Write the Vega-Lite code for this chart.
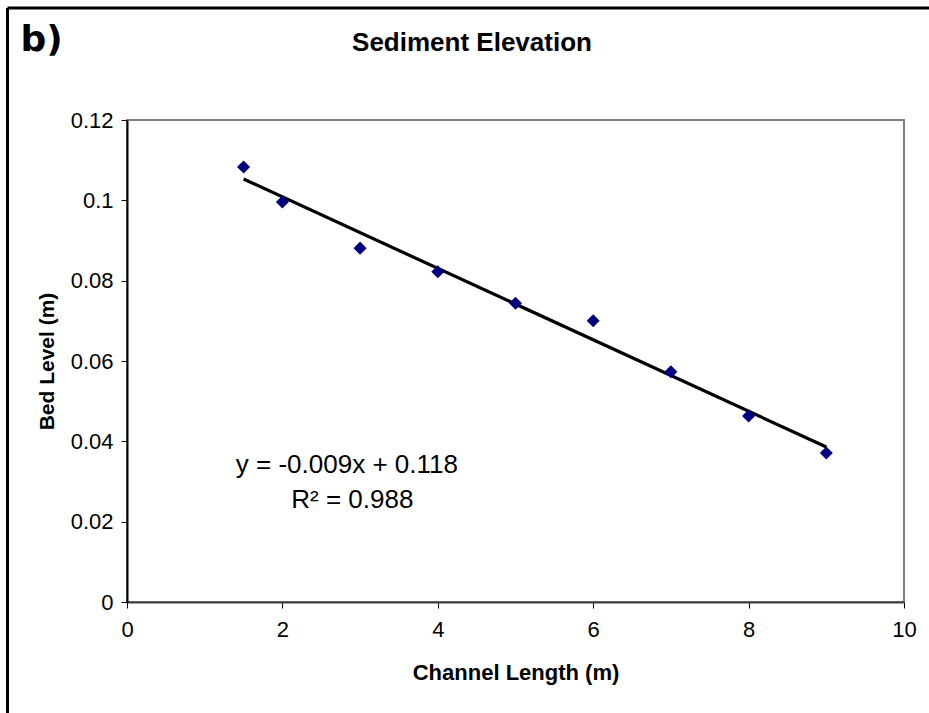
{
  "$schema": "https://vega.github.io/schema/vega-lite/v6.json",
  "width": 777,
  "height": 482,
  "autosize": {"type": "none"},
  "padding": {"left": 127, "top": 120, "right": 25, "bottom": 111},
  "background": "white",
  "config": {
    "font": "Liberation Sans",
    "view": {"stroke": "#808080", "strokeWidth": 2},
    "axis": {"grid": false, "labelFlush": false, "labelOverlap": false, "labelFont": "Liberation Sans", "titleFont": "Liberation Sans", "labelColor": "black", "titleColor": "black", "tickColor": "black", "tickSize": 6, "labelFontSize": 22, "titleFontWeight": "bold"}
  },
  "datasets": {
    "points": [
      {"length": 1.5, "bed": 0.1083},
      {"length": 2, "bed": 0.0996},
      {"length": 3, "bed": 0.0881},
      {"length": 4, "bed": 0.0822},
      {"length": 5, "bed": 0.0744},
      {"length": 6, "bed": 0.0700},
      {"length": 7, "bed": 0.0573},
      {"length": 8, "bed": 0.0463},
      {"length": 9, "bed": 0.0371}
    ],
    "trend": [
      {"length": 1.5, "bed": 0.1053},
      {"length": 9, "bed": 0.0386}
    ],
    "notes": [
      {"length": 2.83, "bed": 0.0341, "label": "y = -0.009x + 0.118"},
      {"length": 2.9, "bed": 0.0254, "label": "R² = 0.988"}
    ]
  },
  "layer": [
    {
      "data": {"name": "trend"},
      "mark": {"type": "line", "color": "black", "strokeWidth": 3.2},
      "encoding": {
        "x": {"field": "length", "type": "quantitative", "scale": {"domain": [0, 10]},
          "axis": {"title": "Channel Length (m)", "values": [0, 2, 4, 6, 8, 10], "format": "~f", "domainColor": "#404040", "domainWidth": 2, "labelPadding": 11, "titlePadding": 22, "titleFontSize": 22}},
        "y": {"field": "bed", "type": "quantitative", "scale": {"domain": [0, 0.12]},
          "axis": {"title": "Bed Level (m)", "values": [0, 0.02, 0.04, 0.06, 0.08, 0.1, 0.12], "format": "~f", "domainColor": "black", "domainWidth": 2, "labelPadding": 8, "titlePadding": 13, "titleFontSize": 21}}
      }
    },
    {
      "data": {"name": "points"},
      "mark": {"type": "point", "shape": "diamond", "filled": true, "color": "#000080", "size": 170, "opacity": 1},
      "encoding": {
        "x": {"field": "length", "type": "quantitative"},
        "y": {"field": "bed", "type": "quantitative"}
      }
    },
    {
      "data": {"name": "notes"},
      "mark": {"type": "text", "fontSize": 26, "color": "black", "align": "center", "baseline": "middle"},
      "encoding": {
        "x": {"field": "length", "type": "quantitative"},
        "y": {"field": "bed", "type": "quantitative"},
        "text": {"field": "label"}
      }
    },
    {
      "data": {"values": [{"length": 4.44, "bed": 0.1392, "label": "Sediment Elevation"}]},
      "mark": {"type": "text", "fontSize": 26, "fontWeight": "bold", "color": "black", "align": "center", "baseline": "middle", "clip": false},
      "encoding": {
        "x": {"field": "length", "type": "quantitative"},
        "y": {"field": "bed", "type": "quantitative"},
        "text": {"field": "label"}
      }
    },
    {
      "data": {"values": [{"length": -1.1, "bed": 0.1399, "label": "b)"}]},
      "mark": {"type": "text", "fontSize": 36, "fontWeight": 900, "font": "DejaVu Sans", "color": "black", "align": "center", "baseline": "middle", "clip": false},
      "encoding": {
        "x": {"field": "length", "type": "quantitative"},
        "y": {"field": "bed", "type": "quantitative"},
        "text": {"field": "label"}
      }
    },
    {
      "data": {"values": [{"x": -1.538, "x2": -1.538, "y": 0.1479, "y2": -0.03}, {"x": -1.538, "x2": 10.5, "y": 0.1479, "y2": 0.1479}]},
      "mark": {"type": "rule", "color": "black", "strokeWidth": 3, "clip": false},
      "encoding": {
        "x": {"field": "x", "type": "quantitative"},
        "x2": {"field": "x2"},
        "y": {"field": "y", "type": "quantitative"},
        "y2": {"field": "y2"}
      }
    }
  ]
}
